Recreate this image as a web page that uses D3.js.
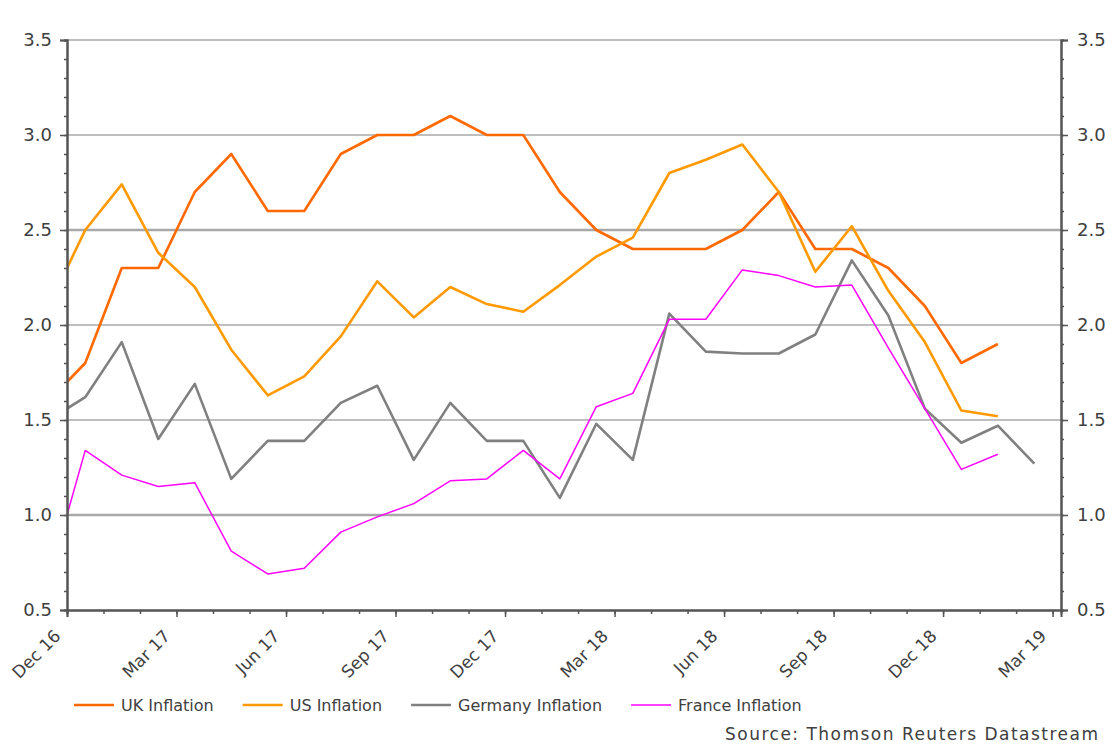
<!DOCTYPE html>
<meta charset="utf-8">
<script src="https://cdn.jsdelivr.net/npm/d3@7"></script>
<style>
  body { margin: 0; background: #fff; }
  text { font-family: "DejaVu Sans", Verdana, sans-serif; fill: #404040; }
  .axis path, .axis line { stroke: #555; }
  .axis path { stroke-width: 2; }
  .axis line { stroke-width: 1.5; }
</style>
<div id="chart"></div>
<script>

// month labels (one per tick on the x axis)
const months = ["Dec 16","Jan 17","Feb 17","Mar 17","Apr 17","May 17","Jun 17","Jul 17","Aug 17","Sep 17","Oct 17","Nov 17",
  "Dec 17","Jan 18","Feb 18","Mar 18","Apr 18","May 18","Jun 18","Jul 18","Aug 18","Sep 18","Oct 18","Nov 18",
  "Dec 18","Jan 19","Feb 19","Mar 19"];
const tickLabels = ["Dec 16","Mar 17","Jun 17","Sep 17","Dec 17","Mar 18","Jun 18","Sep 18","Dec 18","Mar 19"];
const yTicks = [0.5, 1.0, 1.5, 2.0, 2.5, 3.0, 3.5];

// monthly values, starting Dec 16
const ukInflation = [1.6,1.8,2.3,2.3,2.7,2.9,2.6,2.6,2.9,3.0,3.0,3.1,3.0,3.0,2.7,2.5,2.4,2.4,2.4,2.5,2.7,2.4,2.4,2.3,2.1,1.8,1.9];
const usInflation = [2.1,2.5,2.74,2.38,2.2,1.87,1.63,1.73,1.94,2.23,2.04,2.2,2.11,2.07,2.21,2.36,2.46,2.8,2.87,2.95,2.7,2.28,2.52,2.18,1.91,1.55,1.52];
const germanyInflation = [1.5,1.62,1.91,1.40,1.69,1.19,1.39,1.39,1.59,1.68,1.29,1.59,1.39,1.39,1.09,1.48,1.29,2.06,1.86,1.85,1.85,1.95,2.34,2.05,1.56,1.38,1.47,1.27];
const franceInflation = [0.66,1.34,1.21,1.15,1.17,0.81,0.69,0.72,0.91,0.99,1.06,1.18,1.19,1.34,1.19,1.57,1.64,2.03,2.03,2.29,2.26,2.20,2.21,1.88,1.56,1.24,1.32];

const series = [
  {name: "UK Inflation", values: ukInflation, color: "#ff6a00", width: 2.6},
  {name: "US Inflation", values: usInflation, color: "#ff9900", width: 2.6},
  {name: "Germany Inflation", values: germanyInflation, color: "#808080", width: 2.6},
  {name: "France Inflation", values: franceInflation, color: "#ff00ff", width: 1.5}
];

const W = 1116, H = 745;
const plotLeft = 67, plotRight = 1061, plotTop = 40, plotBottom = 610;

const svg = d3.select("#chart").append("svg")
  .attr("width", W).attr("height", H);

// x: month index, ticks at whole months, data drawn half a month earlier
const x = d3.scaleLinear().domain([0, 27.23]).range([plotLeft, plotRight]);
const y = d3.scaleLinear().domain([0.5, 3.5]).range([plotBottom, plotTop]);

// gridlines
svg.append("g")
  .selectAll("line")
  .data(yTicks.filter(d => d > 0.5))
  .join("line")
    .attr("x1", plotLeft).attr("x2", plotRight)
    .attr("y1", d => y(d)).attr("y2", d => y(d))
    .attr("stroke", "#a8a8a8")
    .attr("stroke-width", d => (d == 1.0 || d == 2.5) ? 2.4 : 1.6);

// lines, clipped to the plot area
svg.append("clipPath").attr("id", "plot")
  .append("rect").attr("x", plotLeft).attr("y", plotTop - 5)
  .attr("width", plotRight - plotLeft).attr("height", plotBottom - plotTop + 5);

const line = d3.line()
  .x((d, i) => x(i - 0.5))
  .y(d => y(d));

svg.append("g").attr("clip-path", "url(#plot)")
  .selectAll("path")
  .data(series)
  .join("path")
    .attr("d", d => line(d.values))
    .attr("fill", "none")
    .attr("stroke", d => d.color)
    .attr("stroke-width", d => d.width)
    .attr("stroke-linejoin", "round");

// y axes (major + minor ticks)
const minorY = d3.range(5, 36).map(d => d / 10);
const monthIdx = d3.range(0, months.length);
const quarterIdx = tickLabels.map(t => months.indexOf(t));

svg.append("g").attr("class", "axis")
  .attr("transform", `translate(${plotLeft},0)`)
  .call(d3.axisLeft(y).tickValues(minorY).tickSize(3).tickFormat(""));
svg.append("g").attr("class", "axis")
  .attr("transform", `translate(${plotLeft},0)`)
  .call(d3.axisLeft(y).tickValues(yTicks).tickSize(7).tickPadding(8).tickFormat(d3.format(".1f")))
  .call(g => g.selectAll("text").style("font-size", "18px"));

svg.append("g").attr("class", "axis")
  .attr("transform", `translate(${plotRight},0)`)
  .call(d3.axisRight(y).tickValues(minorY).tickSize(3).tickFormat(""));
svg.append("g").attr("class", "axis")
  .attr("transform", `translate(${plotRight},0)`)
  .call(d3.axisRight(y).tickValues(yTicks).tickSize(7).tickPadding(9).tickFormat(d3.format(".1f")))
  .call(g => g.selectAll("text").style("font-size", "18px"));

// x axis
svg.append("g").attr("class", "axis")
  .attr("transform", `translate(0,${plotBottom})`)
  .call(d3.axisBottom(x).tickValues(monthIdx).tickSize(4).tickFormat(""));
const xAxis = svg.append("g").attr("class", "axis")
  .attr("transform", `translate(0,${plotBottom})`)
  .call(d3.axisBottom(x).tickValues(quarterIdx).tickSize(7).tickFormat(i => months[i]));
xAxis.selectAll("text")
  .style("font-size", "17px")
  .attr("text-anchor", "end")
  .attr("y", 0).attr("dy", "0.35em")
  .attr("transform", "translate(-10,23) rotate(-45)");

// legend
const legend = svg.append("g");
let lx = 74;
series.forEach(s => {
  legend.append("line")
    .attr("x1", lx).attr("x2", lx + 40)
    .attr("y1", 705).attr("y2", 705)
    .attr("stroke", s.color).attr("stroke-width", s.width);
  const t = legend.append("text")
    .attr("x", lx + 47).attr("y", 705).attr("dy", "0.35em")
    .style("font-size", "16px")
    .text(s.name);
  lx += 47 + t.node().getComputedTextLength() + 29;
});

svg.append("text")
  .attr("x", 1098).attr("y", 740)
  .attr("text-anchor", "end")
  .style("font-size", "17px")
  .attr("textLength", 373).attr("lengthAdjust", "spacing")
  .text("Source: Thomson Reuters Datastream");

</script>
